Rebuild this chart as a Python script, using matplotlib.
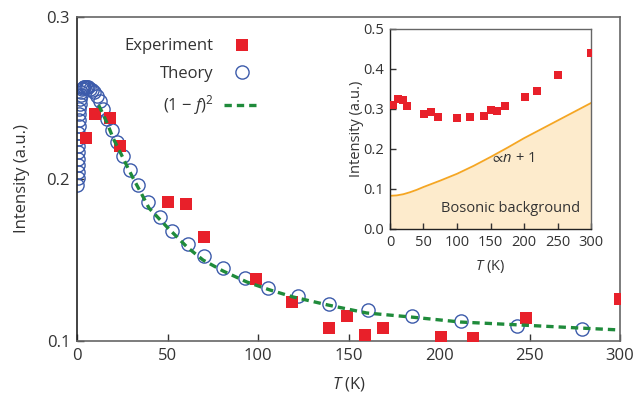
import matplotlib
matplotlib.use("Agg")
import matplotlib.pyplot as plt
from matplotlib.lines import Line2D

plt.rcParams["font.family"] = ["Open Sans", "DejaVu Sans"]
plt.rcParams["mathtext.fontset"] = "custom"
plt.rcParams["mathtext.rm"] = "Open Sans"
plt.rcParams["mathtext.it"] = "Open Sans:italic"
plt.rcParams["mathtext.fallback"] = "stixsans"

# --- main panel data ---
exp_T = [5, 10, 18, 24, 50, 60, 70, 99, 119, 139, 149, 159, 169, 201, 219, 248, 300]
exp_I = [0.2253, 0.240, 0.2377, 0.2204, 0.1858, 0.1846, 0.1642, 0.1383, 0.124,
         0.108, 0.1154, 0.1037, 0.108, 0.1027, 0.102, 0.114, 0.126]

theo_T = [0.25, 0.29, 0.33, 0.38, 0.44, 0.50, 0.58, 0.67, 0.77, 0.88, 1.0, 1.16,
          1.33, 1.53, 1.76, 2.0, 2.3, 2.7, 3.1, 3.6, 4.1, 4.7, 5.4, 6.2, 7.2, 8.3,
          9.5, 11.0, 12.6, 14.5, 16.7, 19.2, 22.0, 25.3, 29.1, 33.5, 39.2, 45.9,
          52.5, 61.3, 70.2, 80.7, 92.8, 105.5, 122.1, 139.2, 160.6, 184.9, 212.2,
          243.1, 279.2]
theo_I = [0.1965, 0.2005, 0.2045, 0.2085, 0.2125, 0.2165, 0.2205, 0.2245, 0.2285,
          0.2325, 0.2365, 0.2400, 0.2435, 0.2465, 0.2495, 0.2520, 0.2540, 0.2555,
          0.2563, 0.2568, 0.2570, 0.2570, 0.2568, 0.2565, 0.2558, 0.2548, 0.2535,
          0.2515, 0.2480, 0.2435, 0.2370, 0.2300, 0.2230, 0.2145, 0.2055, 0.1960,
          0.1855, 0.1765, 0.168, 0.160, 0.1525, 0.145, 0.1389, 0.1327, 0.1278,
          0.1228, 0.1191, 0.1154, 0.1123, 0.1093, 0.1072]

f_T = [12, 13.8, 17.1, 19.9, 23.8, 27.6, 31.5, 35.4, 39.8, 49.7, 60.8, 69.6, 80.7,
       93.9, 106.6, 119.3, 138.7, 160, 184.5, 212, 244.8, 277.9, 300]
f_I = [0.2455, 0.2414, 0.2333, 0.2253, 0.2167, 0.208, 0.1994, 0.1914, 0.182,
       0.1704, 0.158, 0.150, 0.1432, 0.1364, 0.1315, 0.1272, 0.1222, 0.1173,
       0.1148, 0.1117, 0.1099, 0.108, 0.1068]

# --- inset data ---
ins_T = [5, 12, 20, 26, 51, 61, 71, 100, 120, 141, 150, 160, 171, 202, 220, 250, 300]
ins_I = [0.310, 0.325, 0.3225, 0.3075, 0.2867, 0.2933, 0.279, 0.277, 0.279, 0.2825,
         0.2975, 0.294, 0.3075, 0.329, 0.344, 0.384, 0.440]

bg_T = [0, 10, 20, 30, 40, 50, 75, 100, 125, 150, 175, 200, 250, 300]
bg_I = [0.083, 0.084, 0.087, 0.092, 0.098, 0.105, 0.121, 0.138, 0.158, 0.180,
        0.203, 0.227, 0.271, 0.315]

red = "#e8202a"
blue = "#3c5bab"
green = "#1f8b3b"
spine_col = "#666666"
txt = "#333333"

fig = plt.figure(figsize=(6.34, 3.93), dpi=100)
ax = fig.add_axes([77 / 634, 52 / 393, 543 / 634, 324 / 393])

ax.plot(theo_T, theo_I, linestyle="None", marker="o", markersize=9.5,
        markerfacecolor="none", markeredgecolor=blue, markeredgewidth=1.0, zorder=2)
ax.plot(exp_T, exp_I, linestyle="None", marker="s", markersize=8.5,
        color=red, markeredgewidth=0, zorder=3)
ax.plot(f_T, f_I, color=green, linewidth=2.4, dashes=(2.2, 1.5), zorder=4)

ax.set_xlim(0, 300)
ax.set_ylim(0.1, 0.3)
ax.set_xticks([0, 50, 100, 150, 200, 250, 300])
ax.set_yticks([0.1, 0.2, 0.3])
ax.set_yticklabels(["0.1", "0.2", "0.3"])
ax.tick_params(direction="in", length=5, width=1, labelsize=12, colors=txt, pad=5)
for s in ax.spines.values():
    s.set_color(spine_col)
    s.set_linewidth(1.2)
ax.spines["left"].set_color("#222222")
ax.set_xlabel("$T$ (K)", fontsize=12, color=txt, labelpad=8)
ax.set_ylabel("Intensity (a.u.)", fontsize=12, color=txt, labelpad=12)

handles = [
    Line2D([], [], linestyle="None", marker="s", markersize=8.5, color=red,
           markeredgewidth=0),
    Line2D([], [], linestyle="None", marker="o", markersize=9.5,
           markerfacecolor="none", markeredgecolor=blue, markeredgewidth=1.0),
    Line2D([], [], color=green, linewidth=2.4, dashes=(2.2, 1.5)),
]
labels = ["Experiment", "Theory", "(1 \u2212 $f$)$^2$"]
leg = ax.legend(handles, labels, loc="upper left", bbox_to_anchor=(0.06, 0.98),
                frameon=False, markerfirst=False, fontsize=12, handlelength=2.2,
                labelspacing=0.68, handletextpad=0.6)
for t in leg.get_texts():
    t.set_ha("right")
    t.set_color(txt)
leg._legend_box.align = "right"

# --- inset ---
axi = fig.add_axes([390 / 634, 164 / 393, 201 / 634, 200 / 393])
axi.fill_between(bg_T, 0, bg_I, color="#fdebcc", linewidth=0, zorder=1)
axi.plot(bg_T, bg_I, color="#f5a623", linewidth=1.3, zorder=2)
axi.plot(ins_T, ins_I, linestyle="None", marker="s", markersize=5.2, color=red,
         markeredgewidth=0, zorder=3)
axi.text(0.61, 0.355, r"$\propto\!n$ + 1", transform=axi.transAxes,
         fontsize=10.5, color=txt, ha="center", va="center")
axi.text(0.6, 0.105, "Bosonic background", transform=axi.transAxes, fontsize=10.5,
         color=txt, ha="center", va="center")
axi.set_xlim(0, 300)
axi.set_ylim(0, 0.5)
axi.set_xticks([0, 50, 100, 150, 200, 250, 300])
axi.set_yticks([0.0, 0.1, 0.2, 0.3, 0.4, 0.5])
axi.set_yticklabels(["0.0", "0.1", "0.2", "0.3", "0.4", "0.5"])
axi.tick_params(direction="in", length=4, width=1, labelsize=10.5, colors=txt, pad=4)
for s in axi.spines.values():
    s.set_color(spine_col)
    s.set_linewidth(1.0)
axi.spines["left"].set_color("#222222")
axi.spines["bottom"].set_color("#222222")
axi.set_xlabel("$T$ (K)", fontsize=10.5, color=txt, labelpad=6)
axi.set_ylabel("Intensity (a.u.)", fontsize=10.5, color=txt, labelpad=0)

fig.savefig("out.png", dpi=100)
